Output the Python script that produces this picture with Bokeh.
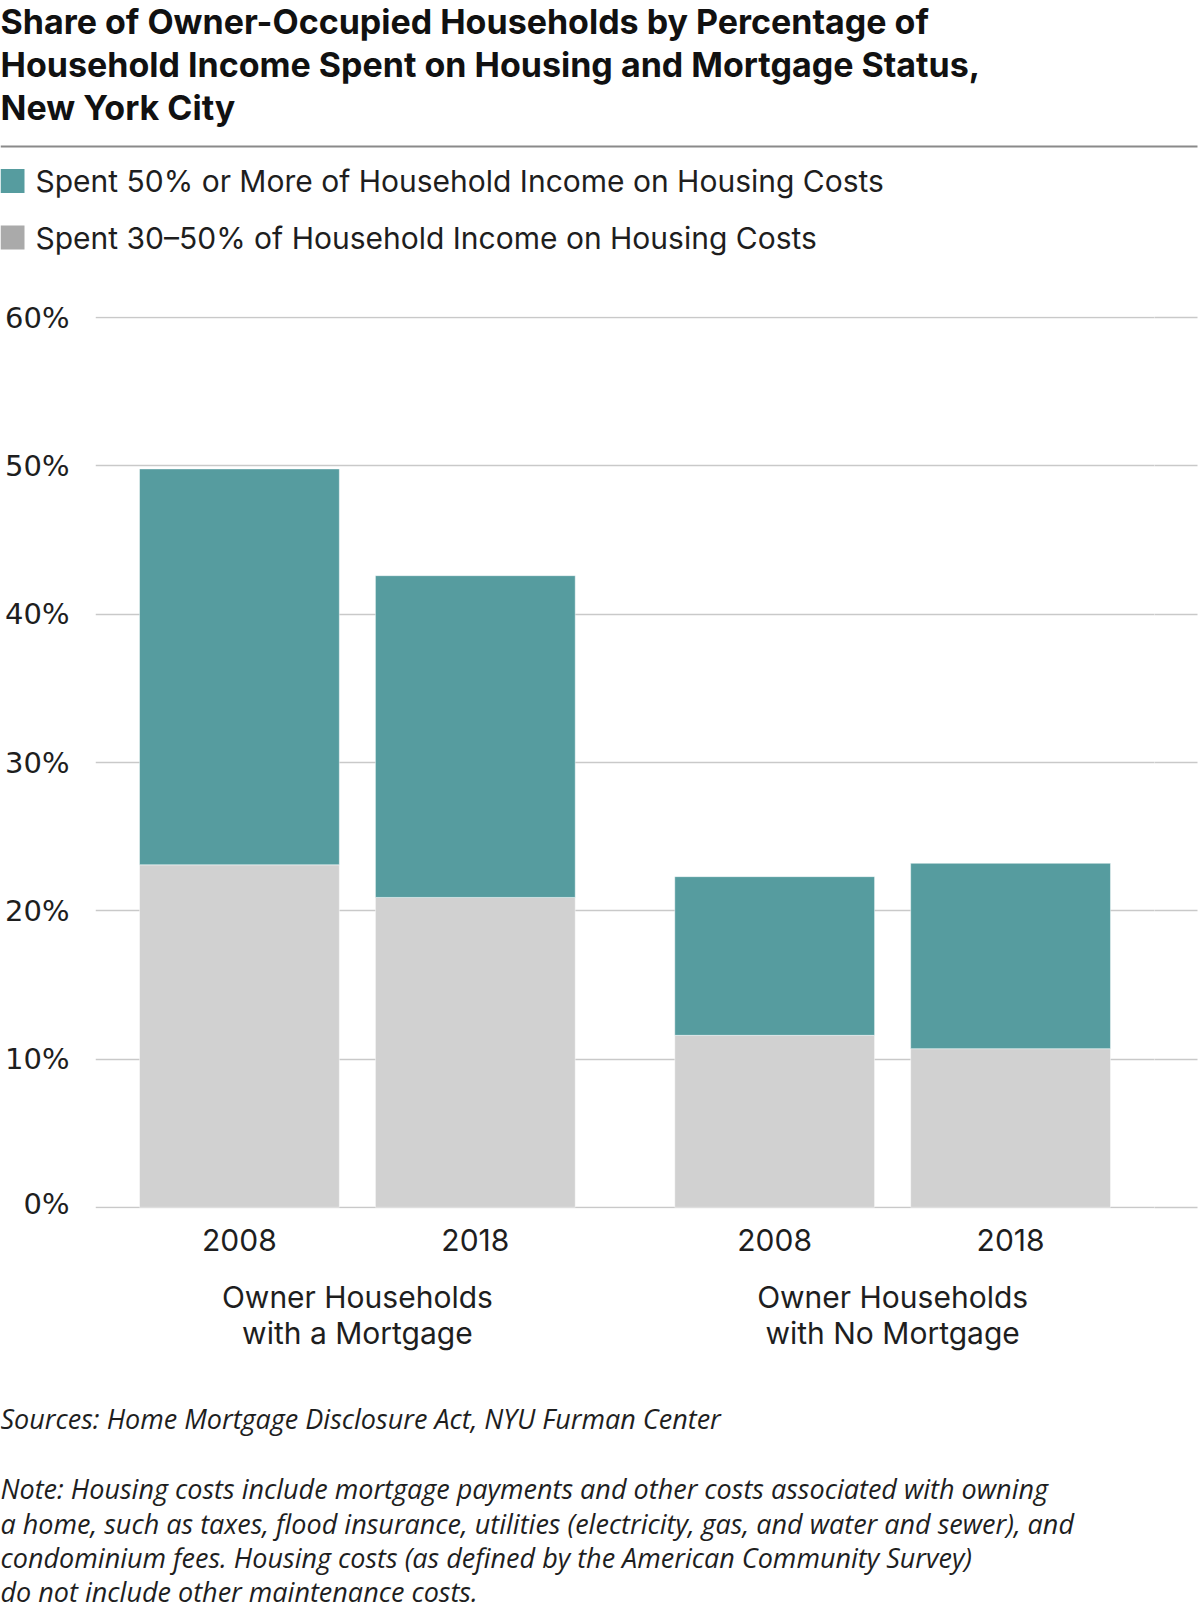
from bokeh.plotting import figure
from bokeh.layouts import column
from bokeh.models import (FactorRange, Range1d, FixedTicker, PrintfTickFormatter,
                          CustomJSTickFormatter, LinearAxis, ColumnDataSource)
from bokeh.core.properties import value
from bokeh.embed import file_html
from bokeh.resources import INLINE

# ---------------- data ----------------
groups = ["Owner Households\nwith a Mortgage", "Owner Households\nwith No Mortgage"]
years = ["2008", "2018"]
share_30_50 = [23.1, 20.9, 11.6, 10.7]      # Spent 30-50% of income
share_50_plus = [26.7, 21.7, 10.7, 12.5]    # Spent 50% or more of income
y_ticks = [0, 10, 20, 30, 40, 50, 60]
series_labels = ["Spent 50% or More of Household Income on Housing Costs",
                 "Spent 30\u201350% of Household Income on Housing Costs"]
title_lines = ["Share of Owner-Occupied Households by Percentage of",
               "Household Income Spent on Housing and Mortgage Status,",
               "New York City"]
source_line = "Sources: Home Mortgage Disclosure Act, NYU Furman Center"
note_lines = ["Note: Housing costs include mortgage payments and other costs associated with owning",
              "a home, such as taxes, flood insurance, utilities (electricity, gas, and water and sewer), and",
              "condominium fees. Housing costs (as defined by the American Community Survey)",
              "do not include other maintenance costs."]

# ---------------- style ----------------
TEAL = "#569c9f"
GREY = "#d1d1d1"
LEG_GREY = "#aaaaaa"
GRID = "#c9c9c9"
TXT = "#1e1e1e"
BODY = "Inter"

W = 1200
FL, FR = 95, 1154          # frame left / right (x, px)
GRID_END = 1197
H_TOP, H_MAIN, H_GRP, H_NOTE = 262, 958, 140, 251

factors = [(g, y) for g in groups for y in years]
x_range = FactorRange(*factors, factor_padding=0.0, group_padding=0.269,
                      range_padding=0.0516, range_padding_units="percent")


def blank(h, xr=None, left=0, right=0):
    f = figure(width=W, height=h, x_range=xr if xr is not None else Range1d(0, W),
               y_range=Range1d(h, 0),
               x_axis_type=None, y_axis_type=None, title=None,
               output_backend="svg", toolbar_location=None,
               min_border_left=left, min_border_right=right,
               min_border_top=0, min_border_bottom=0)
    f.frame_align = False
    f.outline_line_color = None
    f.background_fill_color = "white"
    f.border_fill_color = "white"
    return f


def txt(f, x, y, text, size, font=BODY, style="normal", color=TXT, align="left"):
    src = ColumnDataSource(dict(x=x, y=y, t=text))
    f.text(x="x", y="y", text="t", source=src, text_font=value(font),
           text_font_size=value(size), text_font_style=style, text_color=color,
           text_baseline="middle", text_align=align)


# ---------------- top: title + legend ----------------
top = blank(H_TOP)
txt(top, [0, 0, 0], [20.5, 63.5, 106.5], title_lines, "34px", style="bold", color="#111111")
top.quad(left=[0], right=[GRID_END], top=[145], bottom=[147], fill_color="#8a8a8a", line_color=None)
top.quad(left=[0, 0], right=[24, 24], top=[168.5, 225], bottom=[192.5, 249],
         fill_color=[TEAL, LEG_GREY], line_color=None)
txt(top, [35, 35], [180.5, 237], series_labels, "30px")

# ---------------- main chart ----------------
p = figure(width=W, height=H_MAIN, x_range=x_range, y_range=Range1d(-0.08, 60.08),
           x_axis_type=None, title=None,
           output_backend="svg", toolbar_location=None,
           min_border_left=FL, min_border_right=W - FR,
           min_border_top=54, min_border_bottom=12)
p.frame_align = False
p.outline_line_color = None
p.background_fill_color = "white"
p.border_fill_color = "white"

p.ygrid.ticker = FixedTicker(ticks=y_ticks)
p.ygrid.grid_line_color = GRID
p.ygrid.grid_line_width = 1.5

ya = p.yaxis[0]
ya.ticker = FixedTicker(ticks=y_ticks)
ya.formatter = PrintfTickFormatter(format="%d%%")
ya.axis_line_color = None
ya.major_tick_line_color = None
ya.minor_tick_line_color = None
ya.major_tick_in = 0
ya.major_tick_out = 0
ya.major_label_standoff = 26
ya.major_label_text_font = "DejaVu Sans"
ya.major_label_text_font_size = "29px"
ya.major_label_text_color = TXT

# right axis: its ticks carry the grid lines on past the frame
ra = LinearAxis(ticker=FixedTicker(ticks=y_ticks), axis_line_color=None,
                formatter=CustomJSTickFormatter(code="return ''"),
                major_tick_line_color=GRID, major_tick_line_width=1.5,
                major_tick_out=GRID_END - FR, major_tick_in=0, minor_tick_line_color=None,
                major_label_standoff=0)
p.add_layout(ra, "right")

src = ColumnDataSource(dict(x=factors, mod=share_30_50, sev=share_50_plus))
p.vbar_stack(["mod", "sev"], x="x", width=0.847, source=src,
             fill_color=[GREY, TEAL], line_color="white", line_alpha=0.45, line_width=1)

# ---------------- category labels (shared x scale) ----------------
grp = blank(H_GRP, xr=x_range, left=FL, right=W - FR)
txt(grp, factors, [19] * len(factors), [f[1] for f in factors], "30px", align="center")
txt(grp, groups, [76] * len(groups), [g.split("\n")[0] for g in groups], "30px", align="center")
txt(grp, groups, [112] * len(groups), [g.split("\n")[1] for g in groups], "30px", align="center")

# ---------------- sources + notes ----------------
notes = blank(H_NOTE)
txt(notes, [0], [58], [source_line], "27px", font="Open Sans", style="italic")
txt(notes, [0] * len(note_lines), [128, 162.5, 197, 231], note_lines, "27px",
    font="Open Sans", style="italic")

layout = column(top, p, grp, notes, spacing=0)
open("out.html", "w").write(file_html(layout, INLINE))
